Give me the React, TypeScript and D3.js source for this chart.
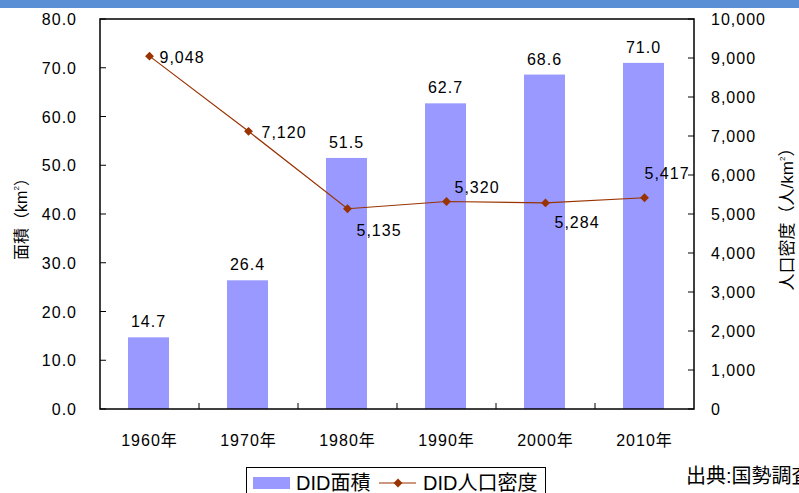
import React from 'react';
import * as d3 from 'd3';

const years = ['1960年', '1970年', '1980年', '1990年', '2000年', '2010年'];
const area = [14.7, 26.4, 51.5, 62.7, 68.6, 71.0];
const density = [9048, 7120, 5135, 5320, 5284, 5417];
const leftTicks = [0, 10, 20, 30, 40, 50, 60, 70, 80];
const rightTicks = [0, 1000, 2000, 3000, 4000, 5000, 6000, 7000, 8000, 9000, 10000];
// label placement for the line values: dx, dy from the point
const densityLabelPos = [
  [10, 7], [13, 7], [9, 27], [8, -9], [9, 25], [0, -19],
];

const W = 799;
const H = 493;
const left = 100;
const right = 694;
const top = 19;
const bottom = 409;
const font = '"Liberation Sans", "Noto Sans CJK JP", sans-serif';

const App = () => {
  const x = d3.scaleBand().domain(years).range([left, right]);
  const yL = d3.scaleLinear().domain([0, 80]).range([bottom, top]);
  const yR = d3.scaleLinear().domain([0, 10000]).range([bottom, top]);
  const barW = 41;
  const fmt = d3.format(',');
  const line = d3.line<number>()
    .x((d, i) => x(years[i])! + x.bandwidth() / 2)
    .y(d => yR(d));
  const diamond = d3.symbol().type(d3.symbolDiamond2).size(50)();

  return (
    <svg width={W} height={H} style={{ position: 'absolute', left: 0, top: 0, fontFamily: font, letterSpacing: 1 }}>
      <rect x={0} y={0} width={W} height={8} fill="#5A8FD6" />

      {area.map((v, i) => (
        <g key={i}>
          <rect x={x(years[i])! + x.bandwidth() / 2 - barW / 2 - 1} y={yL(v)} width={barW}
            height={bottom - yL(v)} fill="#9999FF" />
          <text x={x(years[i])! + x.bandwidth() / 2 - 1} y={yL(v) - 10} textAnchor="middle"
            fontSize={16}>{v.toFixed(1)}</text>
        </g>
      ))}

      <rect x={left} y={top} width={right - left} height={bottom - top} fill="none" stroke="#000" strokeWidth={1.5} />

      {leftTicks.map(t => (
        <g key={t}>
          <line x1={left} x2={left + 6} y1={yL(t)} y2={yL(t)} stroke="#000" />
          <text x={77} y={yL(t) + 6} textAnchor="end" fontSize={16}>{t.toFixed(1)}</text>
        </g>
      ))}
      {rightTicks.map(t => (
        <g key={t}>
          <line x1={right - 6} x2={right} y1={yR(t)} y2={yR(t)} stroke="#000" />
          <text x={711} y={yR(t) + 6} textAnchor="start" fontSize={16}>{fmt(t)}</text>
        </g>
      ))}
      {years.slice(1).map(c => (
        <line key={c} x1={x(c)} x2={x(c)} y1={bottom} y2={bottom - 6} stroke="#000" />
      ))}
      {years.map(c => (
        <text key={c} x={x(c)! + x.bandwidth() / 2} y={446} textAnchor="middle" fontSize={16}>{c}</text>
      ))}

      <path d={line(density)!} fill="none" stroke="#993300" strokeWidth={1.2} />
      {density.map((v, i) => {
        const cx = x(years[i])! + x.bandwidth() / 2;
        const [dx, dy] = densityLabelPos[i];
        return (
          <g key={i}>
            <path d={diamond!} transform={`translate(${cx},${yR(v)})`} fill="#993300" />
            <text x={cx + dx} y={yR(v) + dy} fontSize={16}>{fmt(v)}</text>
          </g>
        );
      })}

      <text transform={`translate(27,215) rotate(-90)`} textAnchor="middle" fontSize={16} letterSpacing={0}>
        面積（km<tspan fontSize={8} dy={-8}>2</tspan><tspan dy={8}>）</tspan>
      </text>
      <text transform={`translate(793,215) rotate(-90)`} textAnchor="middle" fontSize={17} letterSpacing={0}>
        人口密度（人/km<tspan fontSize={8} dy={-8}>2</tspan><tspan dy={8}>）</tspan>
      </text>

      <rect x={246.5} y={467.5} width={299} height={30} fill="#fff" stroke="#000" />
      <rect x={253} y={477} width={37} height={12} fill="#9999FF" />
      <text x={296} y={490} fontSize={20} letterSpacing={0}>DID面積</text>
      <line x1={379} x2={416} y1={483} y2={483} stroke="#993300" strokeWidth={1.2} />
      <path d={diamond!} transform="translate(398,483)" fill="#993300" />
      <text x={423} y={490} fontSize={20} letterSpacing={0}>DID人口密度</text>

      <text x={686} y={483} fontSize={20} letterSpacing={0}>出典:国勢調査</text>
    </svg>
  );
};

export default App;
